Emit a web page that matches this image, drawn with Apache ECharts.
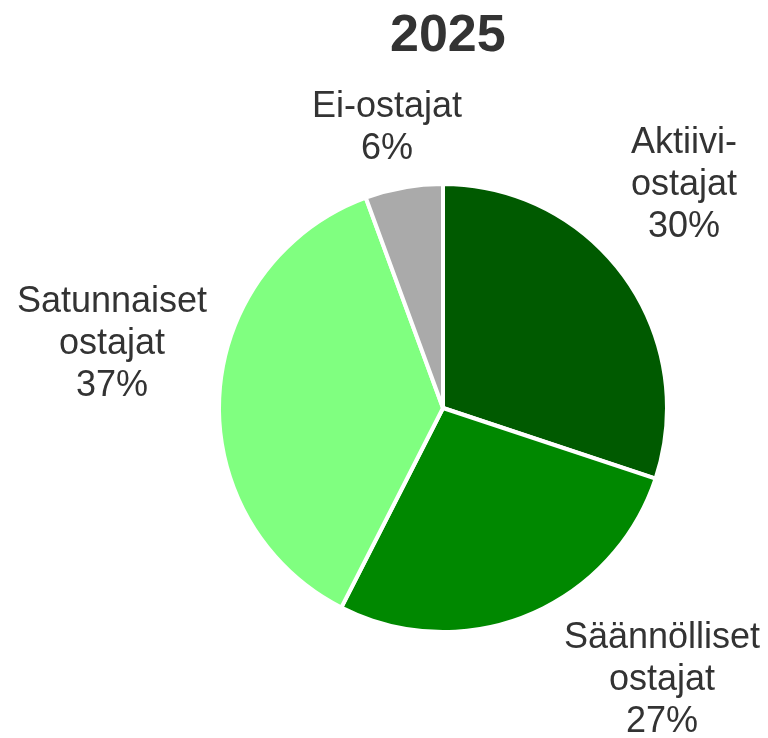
<!DOCTYPE html>
<html>
<head>
<meta charset="utf-8">
<script src="https://cdn.jsdelivr.net/npm/echarts@6/dist/echarts.min.js"></script>
<style>
  body { margin: 0; background: #fff; }
  #main { width: 768px; height: 738px; }
</style>
</head>
<body>
<div id="main"></div>
<script>
var titleText = '2025';
var categories = ['Aktiivi-\nostajat', 'Säännölliset\nostajat', 'Satunnaiset\nostajat', 'Ei-ostajat'];
var shares = [30.1, 27.4, 36.9, 5.6];
var colors = ['#005a00', '#008800', '#80ff80', '#aaaaaa'];

// label centres, relative to the pie centre (px)
var labelSpots = [[241, -223], [219, 272], [-331, -64], [-56, -280]];
var cx = 443, cy = 408;

var myChart = echarts.init(document.getElementById('main'));

var option = {
  animation: false,
  title: {
    text: titleText,
    left: 390,
    top: 11,
    padding: 0,
    textStyle: {
      fontFamily: 'Liberation Sans, Arial, sans-serif',
      fontSize: 52,
      fontWeight: 'bold',
      color: '#333333'
    }
  },
  series: [{
    type: 'pie',
    center: [cx, cy],
    radius: 224,
    startAngle: 90,
    clockwise: true,
    data: categories.map(function (name, i) {
      return { name: name, value: shares[i], itemStyle: { color: colors[i] } };
    }),
    itemStyle: {
      borderColor: '#ffffff',
      borderWidth: 4
    },
    label: {
      show: true,
      position: 'outside',
      overflow: 'none',
      width: 300,
      formatter: function (p) { return p.name + '\n' + Math.round(p.value) + '%'; },
      fontFamily: 'Liberation Sans, Arial, sans-serif',
      fontSize: 36,
      lineHeight: 42,
      color: '#333333'
    },
    labelLine: { show: false },
    labelLayout: function (params) {
      var s = labelSpots[params.dataIndex];
      return {
        x: cx + s[0],
        y: cy + s[1],
        align: 'center',
        verticalAlign: 'middle'
      };
    },
    emphasis: { disabled: true }
  }]
};

myChart.setOption(option);
</script>
</body>
</html>
